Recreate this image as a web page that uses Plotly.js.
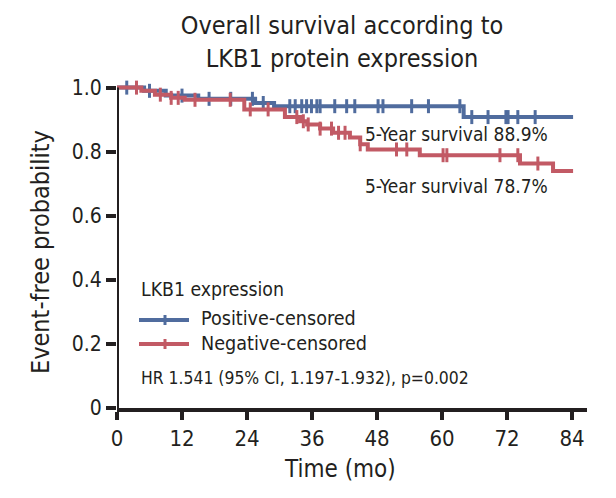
<!DOCTYPE html>
<html><head><meta charset="utf-8">
<script src="https://cdn.plot.ly/plotly-3.0.1.min.js"></script>
<style>html,body{margin:0;padding:0;background:#fff}</style>
</head><body><div id="chart" style="width:616px;height:498px"></div>
<script>
// ---- data ----
const posTimes = [0, 5, 9, 15, 25.5, 29, 64, 84.2];
const posSurv  = [1.0, 0.99, 0.975, 0.965, 0.952, 0.942, 0.908, 0.908];
const posCensor = [1.8, 6, 12, 17, 21, 25, 27, 31.9, 32.9, 34.1, 35.0, 35.9, 36.9, 37.5, 40.2, 42.4, 43.9, 48.2, 49.1, 54.4, 57.5, 63.3, 65.5, 68.5, 71.8, 72.2, 74, 77.2];

const negTimes = [0, 4.5, 7, 10, 12.5, 23.5, 31, 33.8, 35.1, 37.5, 39.9, 43.0, 44.9, 46.3, 55.9, 74.4, 80.5, 84.2];
const negSurv  = [1.0, 0.99, 0.978, 0.968, 0.962, 0.932, 0.908, 0.895, 0.885, 0.872, 0.859, 0.844, 0.823, 0.807, 0.789, 0.763, 0.74, 0.74];
const negCensor = [3.6, 8, 10, 11.3, 14.4, 20.9, 24.6, 27.9, 33.2, 34.4, 35.3, 37.5, 39.6, 40.9, 42.1, 44.9, 51.6, 53.5, 60.2, 60.9, 70.7, 74, 77.7];

const xTickVals = [0, 12, 24, 36, 48, 60, 72, 84];
const xTickText = ['0', '12', '24', '36', '48', '60', '72', '84'];
const yTickVals = [0, 0.2, 0.4, 0.6, 0.8, 1.0];
const yTickText = ['0', '0.2', '0.4', '0.6', '0.8', '1.0'];

const groupNames = ['Positive-censored', 'Negative-censored'];
const survLabels = ['5-Year survival 88.9%', '5-Year survival 78.7%'];
const legendTitle = 'LKB1 expression';
const hrText = 'HR 1.541 (95% CI, 1.197-1.932), p=0.002';

// ---- styling ----
const FONT = '"DejaVu Sans Condensed", "Liberation Sans Narrow", sans-serif';
const INK = '#231f20';
const BLUE = '#506c9e';
const RED = '#c25a65';

function stepAt(times, surv, t) {
  let v = surv[0];
  for (let i = 0; i < times.length; i++) { if (times[i] <= t) v = surv[i]; }
  return v;
}

function curve(times, surv, color, name) {
  return { x: times, y: surv, mode: 'lines', line: { shape: 'hv', color: color, width: 4 },
           name: name, showlegend: false, hoverinfo: 'skip' };
}
function censor(ct, times, surv, color, name) {
  return { x: ct, y: ct.map(t => stepAt(times, surv, t)), mode: 'markers',
           marker: { symbol: 'line-ns', size: 10, color: color, line: { color: color, width: 3 } },
           name: name, showlegend: false, hoverinfo: 'skip' };
}

const data = [
  curve(posTimes, posSurv, BLUE, groupNames[0]),
  censor(posCensor, posTimes, posSurv, BLUE, groupNames[0]),
  curve(negTimes, negSurv, RED, groupNames[1]),
  censor(negCensor, negTimes, negSurv, RED, groupNames[1])
];

// pixel helpers for plot-area placement
const W = 616, H = 498, ML = 117, MR = 29, MT = 78, MB = 90;
const PW = W - ML - MR, PH = H - MT - MB;
const px = x => (x - ML) / PW;
const py = y => (H - MB - y) / PH;

const shapes = [
  { type: 'line', xref: 'x', yref: 'y', x0: 0, x1: 0, y0: 0, y1: 1, line: { color: INK, width: 4 } },
  { type: 'line', xref: 'paper', yref: 'paper', x0: px(139), x1: px(189), y0: py(320), y1: py(320), line: { color: BLUE, width: 4 } },
  { type: 'line', xref: 'paper', yref: 'paper', x0: px(165), x1: px(165), y0: py(315), y1: py(325), line: { color: BLUE, width: 3 } },
  { type: 'line', xref: 'paper', yref: 'paper', x0: px(139), x1: px(189), y0: py(344), y1: py(344), line: { color: RED, width: 4 } },
  { type: 'line', xref: 'paper', yref: 'paper', x0: px(165), x1: px(165), y0: py(339), y1: py(349), line: { color: RED, width: 3 } }
];

function ann(text, x, y, size, anchor) {
  return { text: text, xref: 'paper', yref: 'paper', x: px(x), y: py(y), xanchor: anchor || 'left', yanchor: 'middle',
           showarrow: false, font: { family: FONT, size: size, color: INK } };
}

const annotations = [
  ann(survLabels[0], 550, 134, 19, 'right'),
  ann(survLabels[1], 550, 186, 19, 'right'),
  ann(legendTitle, 139, 289, 19.3),
  ann(groupNames[0], 199, 318, 19.6),
  ann(groupNames[1], 199, 343, 19.6),
  ann(hrText, 139, 378, 17.4),
  ann('Time (mo)', 340, 469, 24, 'center'),
  Object.assign(ann('Event-free probability', 40, 252, 25, 'center'), { textangle: -90 })
];

const layout = {
  width: W, height: H,
  margin: { l: ML, r: MR, t: MT, b: MB, pad: 0 },
  paper_bgcolor: '#fff', plot_bgcolor: '#fff',
  showlegend: false,
  font: { family: FONT, color: INK },
  title: { text: 'Overall survival according to<br>LKB1 protein expression', x: 342 / W, xanchor: 'center',
           xref: 'container', yref: 'container', y: 1 - 34 / H, yanchor: 'top',
           font: { family: FONT, size: 25, color: INK } },
  xaxis: { range: [0, 86.77], tickvals: xTickVals, ticktext: xTickText, ticks: 'outside', ticklen: 8, tickwidth: 4,
           tickcolor: INK, showline: true, linewidth: 4, linecolor: INK, showgrid: false, zeroline: false,
           tickfont: { family: FONT, size: 22, color: INK }, fixedrange: true },
  yaxis: { range: [0, 1.03], tickvals: yTickVals, ticktext: yTickText, ticks: 'outside', ticklen: 10, tickwidth: 4,
           tickcolor: INK, showline: false, showgrid: false, zeroline: false,
           tickfont: { family: FONT, size: 21, color: INK }, fixedrange: true },
  shapes: shapes,
  annotations: annotations
};

Plotly.newPlot('chart', data, layout, { displayModeBar: false, staticPlot: true });
</script>
</body></html>
